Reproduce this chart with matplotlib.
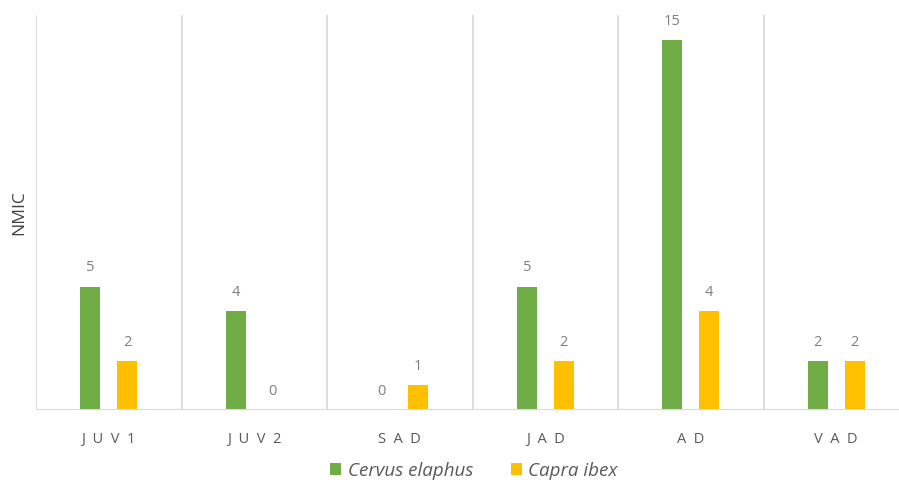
import matplotlib
matplotlib.use("Agg")
import matplotlib.pyplot as plt
import numpy as np

categories = ["JUV1", "JUV2", "SAD", "JAD", "AD", "VAD"]
cervus = [5, 4, 0, 5, 15, 2]
capra = [2, 0, 1, 2, 4, 2]
series_names = ["Cervus elaphus", "Capra ibex"]

plt.rcParams['font.family'] = ['Open Sans', 'DejaVu Sans']

fig = plt.figure(figsize=(8.99, 4.83), dpi=100)
ax = fig.add_axes([36/899, 73/483, 873/899, 395/483])

x = np.arange(len(categories))
w = 0.137
off = 0.127
green = "#70ad47"
yellow = "#ffc000"
b1 = ax.bar(x - off, cervus, w, color=green, label=series_names[0], zorder=3)
b2 = ax.bar(x + off, capra, w, color=yellow, label=series_names[1], zorder=3)

for rects, vals in ((b1, cervus), (b2, capra)):
    for r, v in zip(rects, vals):
        ax.annotate(str(v), (r.get_x() + r.get_width()/2, v), xytext=(0, 8),
                    textcoords="offset points", ha="center", va="bottom",
                    fontsize=10.5, color="#7f7f7f")

ax.set_xlim(-0.5, len(categories) - 0.5)
ax.set_ylim(0, 16)
for b in np.arange(-0.5, len(categories) + 0.5, 1):
    ax.axvline(b, color="#d9d9d9", lw=1.3, zorder=1)

for s in ax.spines.values():
    s.set_visible(False)
ax.axhline(0, color="#d9d9d9", lw=1.5, zorder=4)

ax.set_yticks([])
ax.set_xticks(x)
ax.set_xticklabels(["  ".join(c) for c in categories],
                   fontsize=10.5, color="#595959")
ax.tick_params(axis="x", length=0, pad=16)
ax.set_ylabel("NMIC", fontsize=12.5, color="#404040", labelpad=6)

leg = fig.legend(handles=[b1, b2], loc="center", bbox_to_anchor=(0.527, 12/483),
                 ncol=2, frameon=False, prop={"style": "italic", "size": 13.5},
                 handlelength=0.6, handleheight=0.6, handletextpad=0.35, columnspacing=2.0)
for t in leg.get_texts():
    t.set_color("#595959")

fig.savefig("out.png", dpi=100)
